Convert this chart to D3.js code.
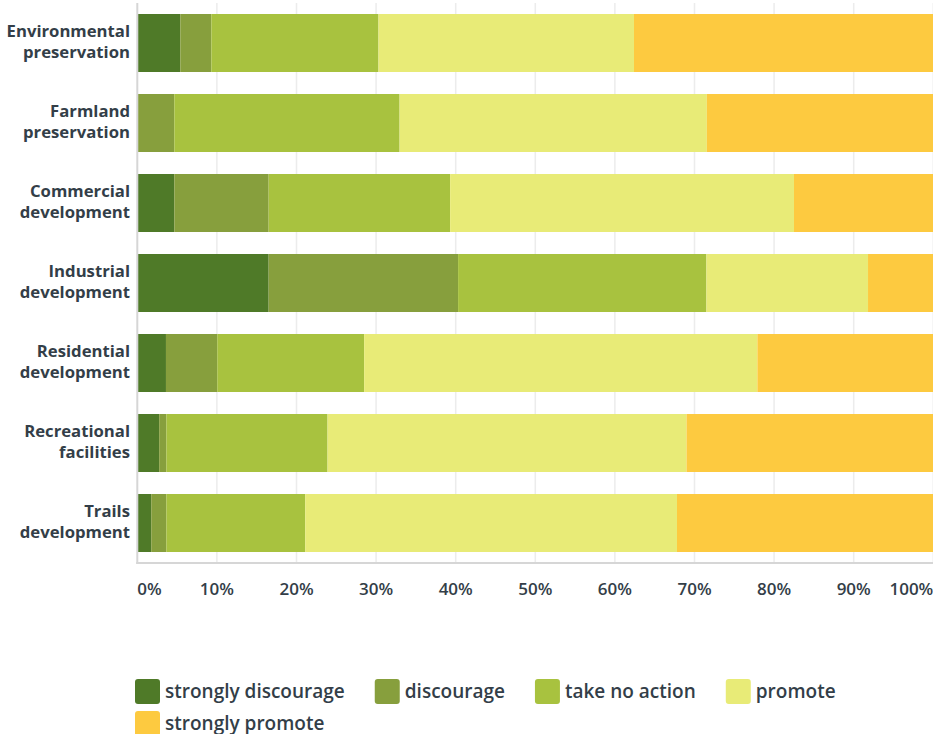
<!DOCTYPE html>
<html>
<head>
<meta charset="utf-8">
<script src="https://cdn.jsdelivr.net/npm/d3@7"></script>
<style>
  html, body { margin: 0; padding: 0; background: #fff; }
  svg { display: block; }
  text { font-family: "Open Sans", Lato, sans-serif; fill: #333e48; }
</style>
</head>
<body>
<svg id="chart" width="933" height="734"></svg>
<script>
// ---- data ----
const categories = [
  ["Environmental", "preservation"],
  ["Farmland", "preservation"],
  ["Commercial", "development"],
  ["Industrial", "development"],
  ["Residential", "development"],
  ["Recreational", "facilities"],
  ["Trails", "development"]
];
const seriesNames = ["strongly discourage", "discourage", "take no action", "promote", "strongly promote"];
const stronglyDiscourage = [5.4, 0, 4.65, 16.5, 3.6, 2.75, 1.75];
const discourage         = [3.9, 4.65, 11.85, 23.8, 6.45, 0.9, 1.9];
const takeNoAction       = [21.0, 28.3, 22.8, 31.2, 18.45, 20.25, 17.45];
const promote            = [32.1, 38.6, 43.2, 20.3, 49.4, 45.1, 46.7];
const stronglyPromote    = [37.6, 28.45, 17.5, 8.2, 22.1, 31.0, 32.2];
const tickValues = [0, 10, 20, 30, 40, 50, 60, 70, 80, 90, 100];
const colors = ["#4f7a28", "#879f3d", "#a8c23f", "#e8eb77", "#fdca40"];

// ---- build table ----
const seriesValues = [stronglyDiscourage, discourage, takeNoAction, promote, stronglyPromote];
const table = categories.map((c, i) => {
  const row = { key: i };
  seriesNames.forEach((s, j) => row[s] = seriesValues[j][i]);
  return row;
});

const svg = d3.select("#chart");
const x = d3.scaleLinear().domain([0, 100]).range([137.3, 933.3]);
const y = d3.scaleBand().domain(d3.range(categories.length)).range([3, 563])
  .paddingInner(0.275).paddingOuter(0.1375);
const color = d3.scaleOrdinal().domain(seriesNames).range(colors);

// gridlines
svg.append("g").selectAll("line")
  .data(tickValues.filter(t => t > 0))
  .join("line")
  .attr("x1", d => x(d)).attr("x2", d => x(d))
  .attr("y1", 3).attr("y2", 563)
  .attr("stroke", "#ececec").attr("stroke-width", 1.5);

// bars
const stack = d3.stack().keys(seriesNames);
const stacked = stack(table);
svg.append("g").selectAll("g")
  .data(stacked)
  .join("g")
  .attr("fill", d => color(d.key))
  .selectAll("rect")
  .data(d => d)
  .join("rect")
  .attr("x", d => x(d[0]))
  .attr("width", d => Math.max(0, x(d[1]) - x(d[0])))
  .attr("y", (d, i) => y(i))
  .attr("height", y.bandwidth());

// axes lines
svg.append("line").attr("x1", x(0)).attr("x2", x(0)).attr("y1", 3).attr("y2", 564)
  .attr("stroke", "#d6d6d6").attr("stroke-width", 2);
svg.append("line").attr("x1", x(0) - 1).attr("x2", 933).attr("y1", 563).attr("y2", 563)
  .attr("stroke", "#d6d6d6").attr("stroke-width", 2);

// x tick labels
svg.append("g").selectAll("text")
  .data(tickValues)
  .join("text")
  .attr("x", d => x(d))
  .attr("y", 595)
  .attr("text-anchor", d => d === 0 ? "start" : d === 100 ? "end" : "middle")
  .attr("font-size", 17)
  .attr("font-weight", 600)
  .text(d => d + "%");

// y labels
const yl = svg.append("g").selectAll("text")
  .data(categories)
  .join("text")
  .attr("text-anchor", "end")
  .attr("font-size", 16.7)
  .attr("font-weight", 700);
yl.each(function(d, i) {
  const cy = y(i) + y.bandwidth() / 2;
  const t = d3.select(this);
  t.append("tspan").attr("x", 130).attr("y", cy - 6).text(d[0]);
  t.append("tspan").attr("x", 130).attr("y", cy + 15).text(d[1]);
});

// legend
const legend = svg.append("g");
let lx = 135, ly = 679;
const maxX = 933;
seriesNames.forEach((s, i) => {
  const g = legend.append("g");
  const txt = g.append("text").attr("font-size", 19).attr("font-weight", 600).text(s);
  const w = txt.node().getComputedTextLength();
  if (lx + 30 + w > maxX) { lx = 135; ly += 32; }
  g.append("rect").attr("x", lx).attr("y", ly).attr("width", 25).attr("height", 25)
    .attr("rx", 3).attr("fill", color(s));
  txt.attr("x", lx + 30).attr("y", ly + 18.5);
  lx += 30 + w + 30;
});
</script>
</body>
</html>
